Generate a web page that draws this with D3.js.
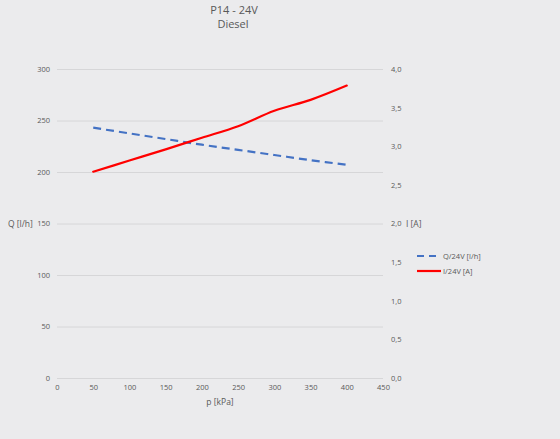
<!DOCTYPE html>
<html><head><meta charset="utf-8">
<script src="https://cdn.jsdelivr.net/npm/d3@7"></script>
<style>
html,body{margin:0;padding:0;background:#ebebed;}
svg{display:block;font-family:"Open Sans",sans-serif;}
</style></head>
<body>
<svg id="c" width="560" height="439"></svg>
<script>
const pressure = [50, 100, 150, 200, 250, 300, 350, 400];
const flowQ = [243, 237.5, 232, 226.5, 221.5, 216.5, 211.5, 207];
const currentI = [2.67, 2.815, 2.96, 3.11, 3.26, 3.46, 3.6, 3.785];
const xTicks = [0, 50, 100, 150, 200, 250, 300, 350, 400, 450];
const yLeftTicks = [0, 50, 100, 150, 200, 250, 300];
const yRightTicks = [0, 0.5, 1, 1.5, 2, 2.5, 3, 3.5, 4];
const seriesNames = ["Q/24V [l/h]", "I/24V [A]"];

const svg = d3.select("#c");
const W = 560, H = 439;
svg.append("rect").attr("width", W).attr("height", H).attr("fill", "#ebebed");

const x = d3.scaleLinear().domain([0, 450]).range([57, 383]);
const yL = d3.scaleLinear().domain([0, 300]).range([378, 69]);
const yR = d3.scaleLinear().domain([0, 4]).range([378, 69]);
const txt = "#595959";

// title
svg.append("text").attr("x", 234).attr("y", 14).attr("text-anchor", "middle")
  .attr("font-size", 11).attr("fill", txt).text("P14 - 24V");
svg.append("text").attr("x", 233).attr("y", 28).attr("text-anchor", "middle")
  .attr("font-size", 11).attr("fill", txt).text("Diesel");

// gridlines
svg.append("g").selectAll("line").data(yLeftTicks).join("line")
  .attr("x1", x(0)).attr("x2", x(450))
  .attr("y1", d => yL(d) + 0.5).attr("y2", d => yL(d) + 0.5)
  .attr("stroke", "#d6d6d8").attr("stroke-width", 1);

// left axis
const gL = svg.append("g").attr("transform", `translate(${x(0)},0)`)
  .call(d3.axisLeft(yL).tickValues(yLeftTicks).tickSize(0).tickPadding(7));
gL.select(".domain").remove();
gL.selectAll("text").attr("font-size", 7.5).attr("fill", txt).attr("font-family", "Open Sans");

// right axis
const gR = svg.append("g").attr("transform", `translate(${x(450)},0)`)
  .call(d3.axisRight(yR).tickValues(yRightTicks).tickSize(0).tickPadding(8)
    .tickFormat(d => d3.format(".1f")(d).replace(".", ",")));
gR.select(".domain").remove();
gR.selectAll("text").attr("font-size", 7.5).attr("fill", txt).attr("font-family", "Open Sans");

// bottom axis
const gB = svg.append("g").attr("transform", `translate(0,${yL(0)})`)
  .call(d3.axisBottom(x).tickValues(xTicks).tickSize(0).tickPadding(7));
gB.select(".domain").remove();
gB.selectAll("text").attr("font-size", 7.5).attr("fill", txt).attr("font-family", "Open Sans");

// axis titles
svg.append("text").attr("x", 8).attr("y", yL(150) + 3).attr("font-size", 8.5)
  .attr("fill", txt).text("Q [l/h]");
svg.append("text").attr("x", 406).attr("y", yR(2) + 3).attr("font-size", 8.5)
  .attr("fill", txt).text("I [A]");
svg.append("text").attr("x", 220).attr("y", 405).attr("text-anchor", "middle")
  .attr("font-size", 8.5).attr("fill", txt).text("p [kPa]");

// lines
const lineQ = d3.line().x((d, i) => x(pressure[i])).y(d => yL(d)).curve(d3.curveCatmullRom.alpha(0.5));
const lineI = d3.line().x((d, i) => x(pressure[i])).y(d => yR(d)).curve(d3.curveCatmullRom.alpha(0.5));

svg.append("path").attr("d", lineQ(flowQ)).attr("fill", "none")
  .attr("stroke", "#4472c4").attr("stroke-width", 2.2).attr("stroke-dasharray", "8,5");
svg.append("path").attr("d", lineI(currentI)).attr("fill", "none")
  .attr("stroke", "#ff0000").attr("stroke-width", 2.2).attr("stroke-linecap", "round");

// legend
const lg = svg.append("g");
lg.append("line").attr("x1", 417).attr("x2", 440).attr("y1", 256).attr("y2", 256)
  .attr("stroke", "#4472c4").attr("stroke-width", 2.2).attr("stroke-dasharray", "7,5");
lg.append("text").attr("x", 443).attr("y", 259).attr("font-size", 7.5).attr("fill", txt).text(seriesNames[0]);
lg.append("line").attr("x1", 417).attr("x2", 441).attr("y1", 271).attr("y2", 271)
  .attr("stroke", "#ff0000").attr("stroke-width", 2.2);
lg.append("text").attr("x", 443).attr("y", 274).attr("font-size", 7.5).attr("fill", txt).text(seriesNames[1]);
</script>
</body></html>
